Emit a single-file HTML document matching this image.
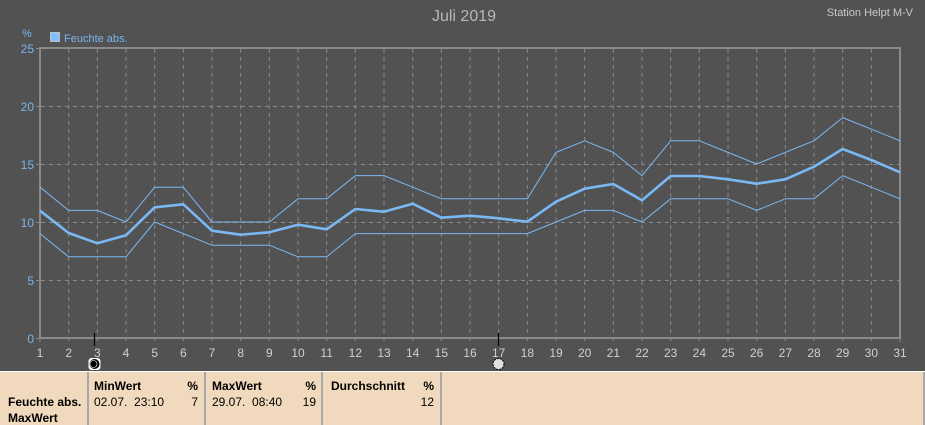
<!DOCTYPE html>
<html><head><meta charset="utf-8"><style>
html,body{margin:0;padding:0;background:#525252;}
body{width:925px;height:425px;overflow:hidden;position:relative;font-family:"Liberation Sans",sans-serif;}
svg{position:absolute;left:0;top:0;}
</style></head><body>
<svg width="925" height="425" viewBox="0 0 925 425" xmlns="http://www.w3.org/2000/svg" font-family="Liberation Sans, sans-serif">
<rect x="0" y="0" width="925" height="425" fill="#525252"/>
<text x="464" y="21" font-size="16" fill="#b8b8b8" text-anchor="middle">Juli 2019</text>
<text x="913" y="16" font-size="11" fill="#c8c8c8" text-anchor="end">Station Helpt M-V</text>
<text x="22" y="37" font-size="11" fill="#7ab4ee">%</text>
<rect x="50.5" y="32.5" width="9" height="9" fill="#80c0ff" stroke="#c0c0c0" stroke-width="1"/>
<text x="64" y="42" font-size="11" fill="#7ab4ee">Feuchte abs.</text>
<!-- grid -->
<g stroke="#8a8a8a" stroke-width="1" stroke-dasharray="4,4">
<line x1="41" y1="106.5" x2="900" y2="106.5"/>
<line x1="41" y1="164.5" x2="900" y2="164.5"/>
<line x1="41" y1="222.5" x2="900" y2="222.5"/>
<line x1="41" y1="280.5" x2="900" y2="280.5"/>
<line x1="68.67" y1="49" x2="68.67" y2="341"/><line x1="97.33" y1="49" x2="97.33" y2="341"/><line x1="126" y1="49" x2="126" y2="341"/><line x1="154.67" y1="49" x2="154.67" y2="341"/><line x1="183.33" y1="49" x2="183.33" y2="341"/><line x1="212" y1="49" x2="212" y2="341"/><line x1="240.67" y1="49" x2="240.67" y2="341"/><line x1="269.33" y1="49" x2="269.33" y2="341"/><line x1="298" y1="49" x2="298" y2="341"/><line x1="326.67" y1="49" x2="326.67" y2="341"/><line x1="355.33" y1="49" x2="355.33" y2="341"/><line x1="384" y1="49" x2="384" y2="341"/><line x1="412.67" y1="49" x2="412.67" y2="341"/><line x1="441.33" y1="49" x2="441.33" y2="341"/><line x1="470" y1="49" x2="470" y2="341"/><line x1="498.67" y1="49" x2="498.67" y2="341"/><line x1="527.33" y1="49" x2="527.33" y2="341"/><line x1="556" y1="49" x2="556" y2="341"/><line x1="584.67" y1="49" x2="584.67" y2="341"/><line x1="613.33" y1="49" x2="613.33" y2="341"/><line x1="642" y1="49" x2="642" y2="341"/><line x1="670.67" y1="49" x2="670.67" y2="341"/><line x1="699.33" y1="49" x2="699.33" y2="341"/><line x1="728" y1="49" x2="728" y2="341"/><line x1="756.67" y1="49" x2="756.67" y2="341"/><line x1="785.33" y1="49" x2="785.33" y2="341"/><line x1="814" y1="49" x2="814" y2="341"/><line x1="842.67" y1="49" x2="842.67" y2="341"/><line x1="871.33" y1="49" x2="871.33" y2="341"/>
</g>
<!-- y ticks -->
<g stroke="#8a8a8a" stroke-width="1">
<line x1="36" y1="48.5" x2="40" y2="48.5"/><line x1="36" y1="106.5" x2="40" y2="106.5"/><line x1="36" y1="164.5" x2="40" y2="164.5"/><line x1="36" y1="222.5" x2="40" y2="222.5"/><line x1="36" y1="280.5" x2="40" y2="280.5"/><line x1="36" y1="338.5" x2="40" y2="338.5"/>
<line x1="40" y1="338" x2="40" y2="342"/><line x1="900" y1="338" x2="900" y2="342"/>
</g>
<!-- frame -->
<rect x="40" y="48" width="860" height="290" fill="none" stroke="#8a8a8a" stroke-width="2"/>
<!-- y labels -->
<g font-size="12" fill="#7ab4ee" text-anchor="end">
<text x="34" y="53">25</text><text x="34" y="111">20</text><text x="34" y="169">15</text><text x="34" y="227">10</text><text x="34" y="285">5</text><text x="34" y="343">0</text>
</g>
<!-- x labels -->
<g font-size="12" fill="#d0d0d0" text-anchor="middle">
<text x="40" y="357">1</text><text x="68.67" y="357">2</text><text x="97.33" y="357">3</text><text x="126" y="357">4</text><text x="154.67" y="357">5</text><text x="183.33" y="357">6</text><text x="212" y="357">7</text><text x="240.67" y="357">8</text><text x="269.33" y="357">9</text><text x="298" y="357">10</text><text x="326.67" y="357">11</text><text x="355.33" y="357">12</text><text x="384" y="357">13</text><text x="412.67" y="357">14</text><text x="441.33" y="357">15</text><text x="470" y="357">16</text><text x="498.67" y="357">17</text><text x="527.33" y="357">18</text><text x="556" y="357">19</text><text x="584.67" y="357">20</text><text x="613.33" y="357">21</text><text x="642" y="357">22</text><text x="670.67" y="357">23</text><text x="699.33" y="357">24</text><text x="728" y="357">25</text><text x="756.67" y="357">26</text><text x="785.33" y="357">27</text><text x="814" y="357">28</text><text x="842.67" y="357">29</text><text x="871.33" y="357">30</text><text x="900" y="357">31</text>
</g>
<!-- series -->
<g fill="none" stroke="#7ab8f4" stroke-linejoin="round">
<polyline stroke-width="1" points="40,187.2 68.67,210.4 97.33,210.4 126,222 154.67,187.2 183.33,187.2 212,222 240.67,222 269.33,222 298,198.8 326.67,198.8 355.33,175.6 384,175.6 412.67,187.2 441.33,198.8 470,198.8 498.67,198.8 527.33,198.8 556,152.4 584.67,140.8 613.33,152.4 642,175.6 670.67,140.8 699.33,140.8 728,152.4 756.67,164 785.33,152.4 814,140.8 842.67,117.6 871.33,129.2 900,140.8"/>
<polyline stroke-width="1" points="40,233.6 68.67,256.8 97.33,256.8 126,256.8 154.67,222 183.33,233.6 212,245.2 240.67,245.2 269.33,245.2 298,256.8 326.67,256.8 355.33,233.6 384,233.6 412.67,233.6 441.33,233.6 470,233.6 498.67,233.6 527.33,233.6 556,222 584.67,210.4 613.33,210.4 642,222 670.67,198.8 699.33,198.8 728,198.8 756.67,210.4 785.33,198.8 814,198.8 842.67,175.6 871.33,187.2 900,198.8"/>
<polyline stroke-width="2.6" points="40,210.7 68.67,233 97.33,243.3 126,235.3 154.67,207.3 183.33,204.3 212,230.7 240.67,234.7 269.33,232.3 298,224.7 326.67,229.3 355.33,209 384,211.7 412.67,203.7 441.33,217.7 470,215.7 498.67,218.3 527.33,221.7 556,201.7 584.67,188.7 613.33,184 642,200.3 670.67,176 699.33,176 728,179.3 756.67,183.7 785.33,179.3 814,166.7 842.67,149 871.33,160 900,172.3"/>
</g>
<!-- moon markers -->
<line x1="94.5" y1="333" x2="94.5" y2="346" stroke="#000" stroke-width="1.2"/>
<line x1="498.5" y1="333" x2="498.5" y2="346" stroke="#000" stroke-width="1.2"/>
<rect x="88.5" y="358" width="12" height="12" rx="3" fill="#fff"/>
<circle cx="94.5" cy="364" r="5" fill="#000"/>
<circle cx="93.5" cy="364" r="3.5" fill="#000" stroke="#fff" stroke-width="0.6"/>
<circle cx="498.5" cy="364" r="5.5" fill="#e0e0e0" stroke="#000" stroke-width="1" stroke-dasharray="2,1"/>
<!-- table -->
<rect x="0" y="371" width="925" height="54" fill="#f0d9bd"/>
<line x1="0" y1="371.5" x2="925" y2="371.5" stroke="#ffffff" stroke-width="1"/>
<g stroke="#a8a8a8" stroke-width="2">
<line x1="88" y1="372" x2="88" y2="425"/>
<line x1="205" y1="372" x2="205" y2="425"/>
<line x1="322" y1="372" x2="322" y2="425"/>
<line x1="441" y1="372" x2="441" y2="425"/>
<line x1="924" y1="372" x2="924" y2="425"/>
</g>
<g font-size="12" fill="#000">
<text x="8" y="406" font-weight="bold">Feuchte abs.</text>
<text x="8" y="422" font-weight="bold">MaxWert</text>
<text x="94" y="390" font-weight="bold">MinWert</text>
<text x="198" y="390" font-weight="bold" text-anchor="end">%</text>
<text x="94" y="406">02.07.&#160; 23:10</text>
<text x="198" y="406" text-anchor="end">7</text>
<text x="212" y="390" font-weight="bold">MaxWert</text>
<text x="316" y="390" font-weight="bold" text-anchor="end">%</text>
<text x="212" y="406">29.07.&#160; 08:40</text>
<text x="316" y="406" text-anchor="end">19</text>
<text x="331" y="390" font-weight="bold">Durchschnitt</text>
<text x="434" y="390" font-weight="bold" text-anchor="end">%</text>
<text x="434" y="406" text-anchor="end">12</text>
</g>
</svg>
</body></html>
